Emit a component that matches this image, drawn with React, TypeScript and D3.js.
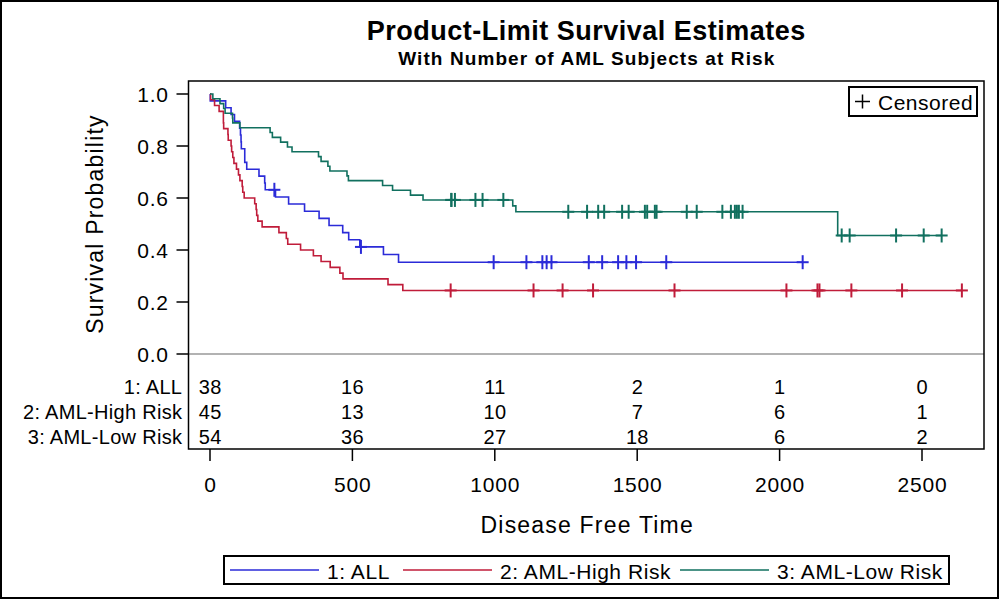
import * as d3 from "d3";

// [time, status] : status 1 = event, 0 = censored
const allTimes = [2081, 1602, 1496, 1462, 1433, 1377, 1330, 996, 226, 1199, 1111, 530, 1182, 1167, 418, 383, 276, 104, 609, 172, 487, 662, 194, 230, 526, 122, 129, 74, 122, 86, 466, 192, 109, 55, 1, 107, 110, 332];
const allStatus = [0, 0, 0, 0, 0, 0, 0, 0, 0, 0, 0, 0, 0, 0, 1, 1, 1, 1, 1, 1, 1, 1, 1, 1, 1, 1, 1, 1, 1, 1, 1, 1, 1, 1, 1, 1, 1, 1];

const highTimes = [2640, 2430, 2252, 2140, 2133, 1238, 1631, 2024, 1345, 1136, 845, 422, 162, 84, 100, 2, 47, 242, 456, 268, 318, 32, 467, 47, 390, 183, 105, 115, 164, 93, 120, 80, 677, 64, 168, 74, 16, 157, 625, 48, 273, 63, 76, 113, 363];
const highStatus = [0, 0, 0, 0, 0, 0, 0, 0, 0, 0, 0, 1, 1, 1, 1, 1, 1, 1, 1, 1, 1, 1, 1, 1, 1, 1, 1, 1, 1, 1, 1, 1, 1, 1, 1, 1, 1, 1, 1, 1, 1, 1, 1, 1, 1];

const lowTimes = [2569, 2506, 2409, 2218, 1857, 1829, 1562, 1470, 1363, 1030, 860, 1258, 2246, 1870, 1799, 1709, 1674, 1568, 1527, 1324, 957, 932, 847, 848, 1850, 1843, 1535, 1447, 1384, 414, 2204, 1063, 481, 105, 641, 390, 288, 421, 79, 748, 486, 48, 272, 1074, 381, 10, 53, 80, 35, 248, 704, 211, 219, 606];
const lowStatus = [0, 0, 0, 0, 0, 0, 0, 0, 0, 0, 0, 0, 0, 0, 0, 0, 0, 0, 0, 0, 0, 0, 0, 0, 0, 0, 0, 0, 0, 1, 1, 1, 1, 1, 1, 1, 1, 1, 1, 1, 1, 1, 1, 1, 1, 1, 1, 1, 1, 1, 1, 1, 1, 1];

const groupNames = ["1: ALL", "2: AML-High Risk", "3: AML-Low Risk"];
const groupColors = ["#2b2bd8", "#c01c3a", "#11705f"];
const xTicks = [0, 500, 1000, 1500, 2000, 2500];
const yTicks = [0, 0.2, 0.4, 0.6, 0.8, 1.0];

const groups = [
  { times: allTimes, status: allStatus },
  { times: highTimes, status: highStatus },
  { times: lowTimes, status: lowStatus },
];

const FONT = "'Liberation Sans', Arial, sans-serif";

function kaplanMeier(times: number[], status: number[]) {
  const rows = times.map((t, i) => ({ t, s: status[i] })).sort((a, b) => a.t - b.t);
  const steps: [number, number][] = [[0, 1]];
  const censored: [number, number][] = [];
  let atRisk = rows.length;
  let surv = 1;
  let i = 0;
  while (i < rows.length) {
    const t = rows[i].t;
    let d = 0;
    let c = 0;
    while (i < rows.length && rows[i].t === t) {
      if (rows[i].s === 1) d++;
      else c++;
      i++;
    }
    if (d > 0) {
      surv = surv * (1 - d / atRisk);
      steps.push([t, surv]);
    }
    for (let k = 0; k < c; k++) censored.push([t, surv]);
    atRisk -= d + c;
  }
  const last = rows[rows.length - 1].t;
  steps.push([last, surv]);
  return { steps, censored };
}

function numberAtRisk(times: number[], at: number) {
  return times.filter((t) => t >= at).length;
}

export default function App() {
  const frame = { left: 188.5, right: 984, top: 81, bottom: 449 };
  const x = d3.scaleLinear().domain([0, 2500]).range([210, 922]);
  const y = d3.scaleLinear().domain([0, 1]).range([354, 94]);
  const line = d3
    .line<[number, number]>()
    .x((d) => x(d[0]))
    .y((d) => y(d[1]))
    .curve(d3.curveStepAfter);

  const curves = groups.map((g) => kaplanMeier(g.times, g.status));
  const riskRowY = [387, 412, 437];
  const plotCenter = (frame.left + frame.right) / 2;

  // legend line start for each group
  const legendX = [230, 403, 680];

  const tickFont = { fontSize: 21, letterSpacing: 0.8 };
  const riskFont = { fontSize: 20, letterSpacing: 0.3 };
  const labelFont = { fontSize: 23, letterSpacing: 1.2 };

  return (
    <svg
      width={1000}
      height={600}
      style={{ position: "absolute", left: 0, top: 0, background: "#fff" }}
      fontFamily={FONT}
    >
      <rect x={1} y={1} width={997} height={597} fill="#fff" stroke="#000" strokeWidth={2} />

      <text x={plotCenter} y={40} textAnchor="middle" fontSize={27} letterSpacing={0.5} fontWeight="bold">
        Product-Limit Survival Estimates
      </text>
      <text x={plotCenter + 0.5} y={65} textAnchor="middle" fontSize={19} letterSpacing={1.1} fontWeight="bold">
        With Number of AML Subjects at Risk
      </text>

      {/* reference line at zero */}
      <line x1={frame.left} x2={frame.right} y1={y(0)} y2={y(0)} stroke="#999" strokeWidth={1.5} />

      {/* curves */}
      {curves.map((c, gi) => (
        <g key={gi}>
          <path d={line(c.steps) ?? ""} fill="none" stroke={groupColors[gi]} strokeWidth={1.6} />
          {c.censored.map((p, k) => (
            <g key={k} stroke={groupColors[gi]} strokeWidth={2}>
              <line x1={x(p[0]) - 6} x2={x(p[0]) + 6} y1={y(p[1])} y2={y(p[1])} />
              <line x1={x(p[0])} x2={x(p[0])} y1={y(p[1]) - 7} y2={y(p[1]) + 7} />
            </g>
          ))}
        </g>
      ))}

      {/* at risk table */}
      {groups.map((g, gi) => (
        <g key={gi} {...riskFont}>
          <text x={182 + riskFont.letterSpacing} y={riskRowY[gi]} textAnchor="end" dominantBaseline="central">
            {groupNames[gi]}
          </text>
          {xTicks.map((t) => (
            <text
              key={t}
              x={x(t) + riskFont.letterSpacing / 2}
              y={riskRowY[gi]}
              textAnchor="middle"
              dominantBaseline="central"
            >
              {numberAtRisk(g.times, t)}
            </text>
          ))}
        </g>
      ))}

      {/* frame */}
      <rect
        x={frame.left}
        y={frame.top}
        width={frame.right - frame.left}
        height={frame.bottom - frame.top}
        fill="none"
        stroke="#000"
        strokeWidth={1.5}
      />

      {/* y axis */}
      {yTicks.map((t) => (
        <g key={t}>
          <line x1={frame.left - 12} x2={frame.left} y1={y(t)} y2={y(t)} stroke="#000" strokeWidth={1.5} />
          <text
            x={168 + tickFont.letterSpacing}
            y={y(t)}
            textAnchor="end"
            dominantBaseline="central"
            {...tickFont}
          >
            {t.toFixed(1)}
          </text>
        </g>
      ))}
      <text
        transform={`translate(103, ${(y(0) + y(1)) / 2}) rotate(-90)`}
        textAnchor="middle"
        {...labelFont}
      >
        Survival Probability
      </text>

      {/* x axis */}
      {xTicks.map((t) => (
        <g key={t}>
          <line x1={x(t)} x2={x(t)} y1={frame.bottom} y2={frame.bottom + 12} stroke="#000" strokeWidth={1.5} />
          <text
            x={x(t) + tickFont.letterSpacing / 2}
            y={484}
            textAnchor="middle"
            dominantBaseline="central"
            {...tickFont}
          >
            {t}
          </text>
        </g>
      ))}
      <text x={plotCenter + 1} y={533} textAnchor="middle" {...labelFont}>
        Disease Free Time
      </text>

      {/* censored legend */}
      <rect x={849} y={87} width={128} height={29} fill="#fff" stroke="#000" strokeWidth={2} />
      <g stroke="#000" strokeWidth={1.5}>
        <line x1={855} x2={870} y1={101.5} y2={101.5} />
        <line x1={862.5} x2={862.5} y1={94.5} y2={108.5} />
      </g>
      <text x={878} y={102} dominantBaseline="central" fontSize={21} letterSpacing={0.5}>
        Censored
      </text>

      {/* group legend */}
      <rect x={224} y={556} width={725} height={28} fill="#fff" stroke="#000" strokeWidth={2} />
      {legendX.map((lx, gi) => (
        <g key={gi}>
          <line x1={lx} x2={lx + 89} y1={570} y2={570} stroke={groupColors[gi]} strokeWidth={1.6} />
          <text x={lx + 97} y={571} dominantBaseline="central" fontSize={21} letterSpacing={0.55}>
            {groupNames[gi]}
          </text>
        </g>
      ))}
    </svg>
  );
}
